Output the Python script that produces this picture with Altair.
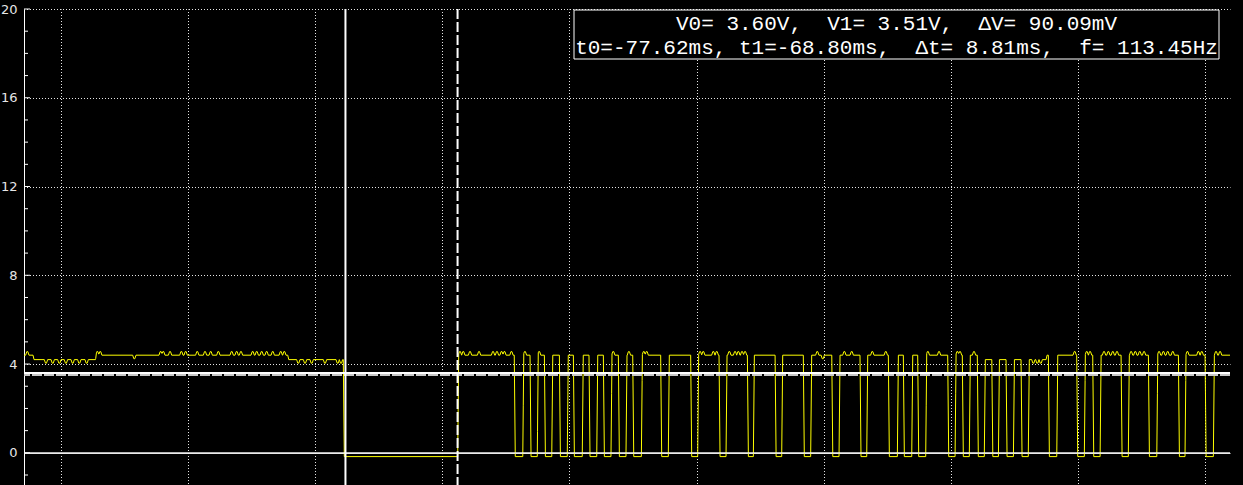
import bisect
import altair as alt
import pandas as pd

# ---------------- values ----------------
# time axis in ms, voltage axis in V
X_MIN, X_MAX = -102.91, -8.03
Y_MIN, Y_MAX = -1.45, 20.0

LOW = -0.17
# level changes of the trace: time of change, level after it
step_t = [-102.91, -102.20, -97.29, -82.16, -77.79,
          -68.79, -64.34, -63.67, -63.10, -62.53, -61.97, -61.39, -60.79,
          -60.17, -59.69, -58.99, -58.46, -57.85, -57.33, -56.73, -56.15,
          -55.55, -55.02, -54.34, -52.82, -52.22, -50.46, -49.91, -48.23,
          -47.68, -46.00, -45.53, -43.82, -43.30, -41.60, -41.02, -39.36,
          -38.79, -37.14, -36.61, -34.91, -34.20, -33.73, -33.07, -32.60,
          -31.97, -30.24, -29.66, -29.09, -28.54, -27.91, -27.36, -26.77,
          -26.25, -25.65, -25.07, -24.47, -23.90, -22.50, -22.32, -21.66,
          -20.09, -19.49, -18.83, -18.25, -16.60, -16.03, -14.45, -13.79,
          -12.09, -11.57, -9.99, -9.34]
step_v = [4.40, 4.20, 4.40, 4.20, LOW,
          4.40, LOW, 4.40, LOW, 4.40, LOW, 4.40, LOW,
          4.40, LOW, 4.40, LOW, 4.40, LOW, 4.40, LOW,
          4.40, LOW, 4.40, LOW, 4.40, LOW, 4.40, LOW,
          4.40, LOW, 4.40, LOW, 4.40, LOW, 4.40, LOW,
          4.40, LOW, 4.40, LOW, 4.40, LOW, 4.40, LOW,
          4.40, LOW, 4.40, LOW, 4.40, LOW, 4.20, LOW,
          4.20, LOW, 4.20, LOW, 4.20, 4.40, LOW, 4.40,
          LOW, 4.40, LOW, 4.40, LOW, 4.40, LOW, 4.40,
          LOW, 4.40, LOW, 4.40]
# small upward spikes on the high level
bump_t = [-102.65, -97.14, -96.91, -92.16, -91.95, -91.42, -90.53, -90.19,
          -89.28, -88.67, -88.22, -87.62, -86.57, -86.18, -85.84, -84.92,
          -84.60, -84.21, -83.82, -83.34, -82.71, -82.43,
          -68.61, -68.35, -67.82, -67.11, -66.01, -65.70, -65.34, -65.11,
          -64.56, -63.50, -62.38, -56.55, -55.32, -54.15, -53.92,
          -49.72, -49.47, -48.68, -48.41, -47.42, -46.97, -46.71, -46.42,
          -46.18, -40.50, -38.37, -37.79, -36.17, -35.11, -31.80, -30.92,
          -29.48, -29.27, -28.17, -20.25, -19.30, -19.04, -17.94, -17.60,
          -17.25, -16.92, -15.81, -15.48, -15.13, -14.79, -13.61, -13.27,
          -12.93, -12.53, -11.38, -10.52, -10.25, -9.13, -8.81]
# small downward spikes
dip_t = [-101.18, -100.65, -100.13, -99.61, -99.08, -98.56, -97.98, -94.23,
         -81.33, -80.80, -80.28, -79.23, -78.23, -77.97, -40.07,
         -23.50, -23.19, -22.92]
SPIKE = 0.16

# cursors
t0, t1 = -77.62, -68.80
v0, v1 = 3.60, 3.51
NB = "\u00a0"
info_lines = [f"V0= 3.60V,{NB}{NB}V1= 3.51V,{NB}{NB}\u0394V= 90.09mV",
              f"t0=-77.62ms, t1=-68.80ms,{NB}{NB}\u0394t= 8.81ms,{NB}{NB}f= 113.45Hz"]

grid_x = [-100, -90, -80, -70, -60, -50, -40, -30, -20, -10]
major_y = [0, 4, 8, 12, 16, 20]
minor_y = [-1, 1, 2, 3, 5, 6, 7, 9, 10, 11, 13, 14, 15, 17, 18, 19]

# ---------------- build the trace polyline ----------------
RAMP = 0.08
HW_BASE, HW_TOP = 0.13, 0.04


def base(t):
    i = bisect.bisect_right(step_t, t) - 1
    if i < 0:
        return step_v[0]
    v = step_v[i]
    if i > 0 and t < step_t[i] + RAMP:
        p = step_v[i - 1]
        return p + (v - p) * (t - step_t[i]) / RAMP
    return v


def trap(t, c):
    d = abs(t - c)
    if d >= HW_BASE:
        return 0.0
    if d <= HW_TOP:
        return 1.0
    return (HW_BASE - d) / (HW_BASE - HW_TOP)


pts = {X_MIN, X_MAX}
for s in step_t:
    pts.add(round(s, 4))
    pts.add(round(s + RAMP, 4))
for c in bump_t + dip_t:
    for o in (-HW_BASE, -HW_TOP, HW_TOP, HW_BASE):
        pts.add(round(c + o, 4))
ts = sorted(p for p in pts if X_MIN <= p <= X_MAX)
vs = [base(t) + SPIKE * sum(trap(t, c) for c in bump_t)
      - SPIKE * sum(trap(t, c) for c in dip_t) for t in ts]
wave = pd.DataFrame({"t": ts, "v": vs})

xs = alt.Scale(domain=[X_MIN, X_MAX], nice=False, zero=False)
ys = alt.Scale(domain=[Y_MIN, Y_MAX], nice=False, zero=False)

x_axis = alt.Axis(values=grid_x, grid=True, labels=False, ticks=False,
                  domain=False, title=None, gridColor="#ffffff",
                  gridDash=[1, 2], gridDashOffset=0.5, gridWidth=1,
                  gridOpacity=0.9)
y_axis = alt.Axis(values=major_y, grid=True, ticks=False, tickSize=0,
                  domain=True, domainColor="#ffffff", domainWidth=1,
                  title=None, labelColor="#e6e6e6", labelFontSize=13,
                  labelFont="DejaVu Sans", labelPadding=7,
                  gridColor="#ffffff",
                  gridDash={"condition": {"test": "datum.value === 0",
                                          "value": []},
                            "value": [1, 2]},
                  gridDashOffset=0.5, gridWidth=1, gridOpacity=0.9)

trace = alt.Chart(wave).mark_line(color="#ffff00", strokeWidth=1, clip=True,
                                  interpolate="linear").encode(
    x=alt.X("t:Q", scale=xs, axis=x_axis),
    y=alt.Y("v:Q", scale=ys, axis=y_axis),
)

major_ticks = alt.Chart(pd.DataFrame({"y": major_y})).mark_rule(
    color="#ffffff", strokeWidth=1).encode(
    y=alt.Y("y:Q", scale=ys, axis=y_axis), x=alt.value(0), x2=alt.value(6))
minor_ticks = alt.Chart(pd.DataFrame({"y": minor_y})).mark_rule(
    color="#ffffff", strokeWidth=1).encode(
    y=alt.Y("y:Q", scale=ys, axis=y_axis), x=alt.value(0), x2=alt.value(4))

zero_line = alt.Chart(pd.DataFrame({"y": [0]})).mark_rule(
    color="#f0f0f0", strokeWidth=1.3).encode(
    y=alt.Y("y:Q", scale=ys, axis=y_axis))

h_v1 = alt.Chart(pd.DataFrame({"y": [v1]})).mark_rule(
    color="#c8c8c8", strokeWidth=2, strokeDash=[10, 2]).encode(
    y=alt.Y("y:Q", scale=ys, axis=y_axis))
h_v0 = alt.Chart(pd.DataFrame({"y": [v0]})).mark_rule(
    color="#ffffff", strokeWidth=2).encode(
    y=alt.Y("y:Q", scale=ys, axis=y_axis))
c_t0 = alt.Chart(pd.DataFrame({"x": [t0]})).mark_rule(
    color="#ffffff", strokeWidth=2).encode(
    x=alt.X("x:Q", scale=xs, axis=x_axis))
c_t1 = alt.Chart(pd.DataFrame({"x": [t1]})).mark_rule(
    color="#ffffff", strokeWidth=2, strokeDash=[10, 3]).encode(
    x=alt.X("x:Q", scale=xs, axis=x_axis))

one = pd.DataFrame({"k": [0]})
box = alt.Chart(one).mark_rect(fill="#000000", stroke="#ffffff",
                               strokeWidth=1).encode(
    x=alt.value(550), x2=alt.value(1195), y=alt.value(1), y2=alt.value(50))
txt1 = alt.Chart(one).mark_text(align="center", baseline="alphabetic",
                                font="Liberation Mono", fontSize=21,
                                color="#ffffff").encode(
    x=alt.value(872.5), y=alt.value(21), text=alt.value(info_lines[0]))
txt2 = alt.Chart(one).mark_text(align="center", baseline="alphabetic",
                                font="Liberation Mono", fontSize=21,
                                color="#ffffff").encode(
    x=alt.value(872.5), y=alt.value(45), text=alt.value(info_lines[1]))

chart = alt.layer(
    trace, zero_line, major_ticks, minor_ticks, h_v1, h_v0, c_t0, c_t1,
    box, txt1, txt2
).properties(
    width=1206, height=476,
    autosize=alt.AutoSizeParams(type="none"),
    padding={"left": 24, "top": 9, "right": 13, "bottom": 0},
    background="#000000",
).configure_view(stroke=None)

chart.save("out.html", embed_options={"renderer": "svg", "actions": False})
